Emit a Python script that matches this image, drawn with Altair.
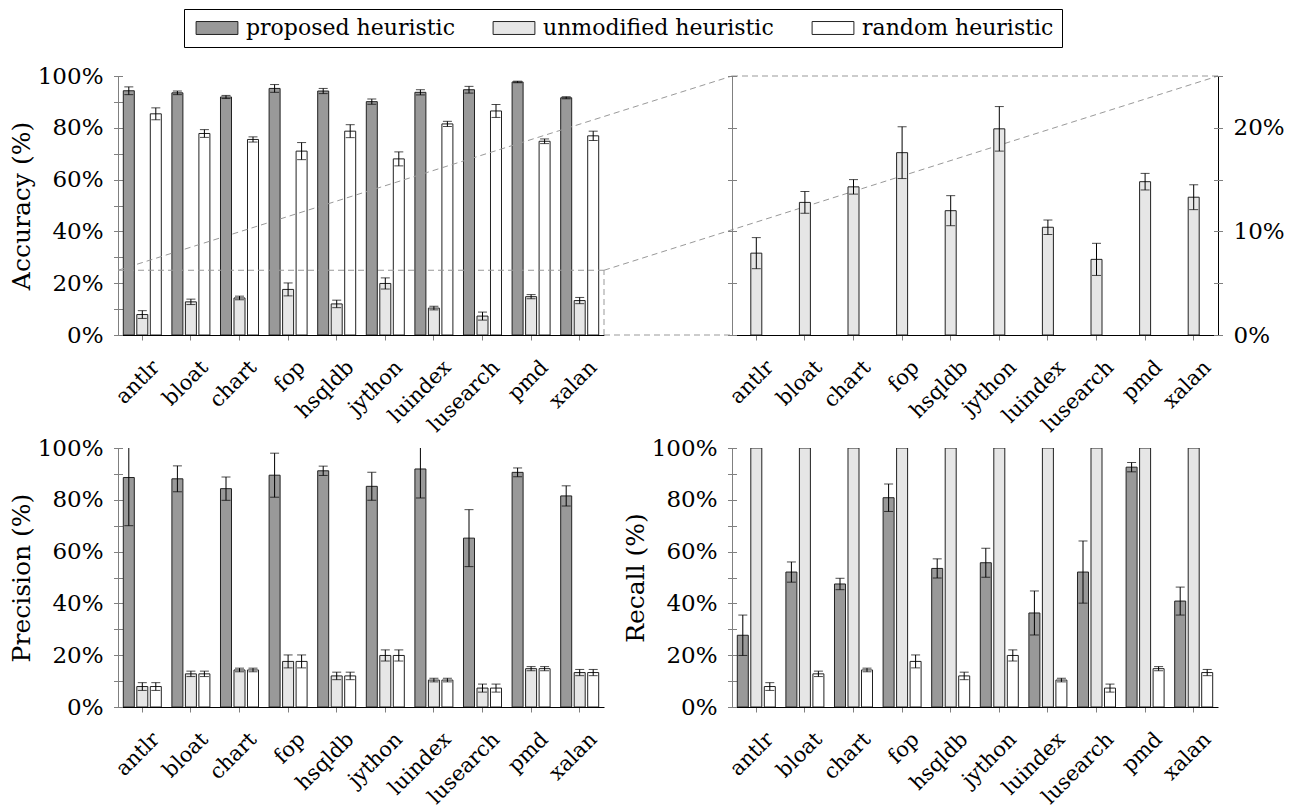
import altair as alt
import pandas as pd

categories = ["antlr", "bloat", "chart", "fop", "hsqldb", "jython", "luindex", "lusearch", "pmd", "xalan"]
series_names = ["proposed heuristic", "unmodified heuristic", "random heuristic"]
fills = ["#999999", "#e6e6e6", "#ffffff"]

acc_proposed = [94.3, 93.5, 91.9, 95.2, 94.2, 90.1, 93.7, 94.7, 97.7, 91.6]
acc_proposed_err = [1.5, 0.7, 0.6, 1.5, 1.0, 1.0, 1.0, 1.3, 0.3, 0.4]
acc_unmod = [7.9, 12.8, 14.3, 17.6, 12.0, 19.9, 10.4, 7.3, 14.8, 13.3]
acc_unmod_err = [1.5, 1.05, 0.7, 2.5, 1.45, 2.15, 0.7, 1.55, 0.8, 1.2]
acc_random = [85.4, 77.8, 75.5, 71.0, 78.7, 68.0, 81.5, 86.5, 74.8, 76.9]
acc_random_err = [2.3, 1.5, 1.0, 3.3, 2.5, 2.7, 1.0, 2.5, 0.9, 1.8]

prec_proposed = [88.6, 88.1, 84.3, 89.5, 91.2, 85.2, 91.9, 65.2, 90.6, 81.5]
prec_proposed_err = [18.6, 5.0, 4.5, 8.5, 1.8, 5.4, 11.2, 11.0, 1.7, 3.9]
prec_unmod = [7.9, 12.8, 14.3, 17.6, 12.0, 19.9, 10.4, 7.3, 14.8, 13.3]
prec_unmod_err = [1.5, 1.05, 0.7, 2.5, 1.45, 2.15, 0.7, 1.55, 0.8, 1.2]
prec_random = [7.9, 12.8, 14.3, 17.6, 12.0, 19.9, 10.4, 7.3, 14.8, 13.3]
prec_random_err = [1.5, 1.05, 0.7, 2.5, 1.45, 2.15, 0.7, 1.55, 0.8, 1.2]

rec_proposed = [27.7, 52.1, 47.5, 80.8, 53.5, 55.7, 36.3, 52.1, 92.6, 40.9]
rec_proposed_err = [7.8, 3.9, 2.2, 5.3, 3.7, 5.6, 8.5, 12.0, 1.8, 5.4]
rec_unmod = [100, 100, 100, 100, 100, 100, 100, 100, 100, 100]
rec_unmod_err = [0, 0, 0, 0, 0, 0, 0, 0, 0, 0]
rec_random = [7.9, 12.8, 14.3, 17.6, 12.0, 19.9, 10.4, 7.3, 14.8, 13.3]
rec_random_err = [1.5, 1.05, 0.7, 2.5, 1.45, 2.15, 0.7, 1.55, 0.8, 1.2]

FONT = "DejaVu Serif"
W = 486
H = 259
HSP = 128
VSP = 113
AXGRAY = "#808080"
DASH = "#999999"


def long_df(vals_list, errs_list, names):
    rows = []
    for name, vals, errs in zip(names, vals_list, errs_list):
        for c, v, e in zip(categories, vals, errs):
            rows.append(dict(bench=c, series=name, value=v, err=e, lo=v - e, hi=v + e))
    return pd.DataFrame(rows)


legend = alt.Legend(
    title=None, orient="none", legendX=66, legendY=-67, direction="horizontal",
    symbolType="M-2.2,-0.68H2.2V0.68H-2.2Z", symbolSize=361, symbolStrokeColor="#222222",
    symbolStrokeWidth=1, labelFont=FONT, labelFontSize=22, labelColor="black",
    labelOffset=18, columnPadding=34, padding=8, strokeColor="black", symbolOffset=14,
    labelLimit=400,
)


def xenc():
    return alt.X(
        "bench:N", sort=categories,
        scale=alt.Scale(domain=categories, paddingInner=0, paddingOuter=0),
        axis=alt.Axis(title=None, labelAngle=-45, labelAlign="right", labelBaseline="middle",
                      labelPadding=24, labelOffset=14, tickSize=5, tickColor=AXGRAY,
                      domainColor="black", labelFontSize=21, labelFont=FONT, labelColor="black"),
    )


xoff = alt.XOffset("series:N", scale=alt.Scale(domain=series_names, paddingInner=0.185, paddingOuter=0.3925))
fill_enc = alt.Fill("series:N", scale=alt.Scale(domain=series_names, range=fills), legend=legend)


def main_axis(title, values, label_expr, orient="left", labels=True, dcolor=AXGRAY):
    kw = dict(orient=orient, values=values, ticks=False, domainColor=dcolor, labels=labels,
              labelPadding=15, labelFont=FONT, labelFontSize=23, labelColor="black")
    if labels:
        kw["labelExpr"] = label_expr
    if title:
        kw.update(title=title, titleFont=FONT, titleFontSize=25, titleFontWeight="normal",
                  titleColor="black", titlePadding=3)
    else:
        kw["title"] = None
    return alt.Axis(**kw)


def tick_axis(values, orient="left"):
    return alt.Axis(orient=orient, values=values, ticks=True, tickSize=9, offset=-4.5,
                    tickColor=AXGRAY, domain=False, labels=False, title=None)


def metric_panel(df, title, extra=None):
    ys = alt.Scale(domain=[0, 100], nice=False, zero=True)
    vals = list(range(0, 101, 10))
    lexpr = "datum.value % 20 == 0 ? datum.value + '%' : ''"
    base = alt.Chart(df)
    errdf = df[df["err"] > 0]
    ebase = alt.Chart(errdf)
    bars = base.mark_bar(stroke="#222222", strokeWidth=1, clip=True).encode(
        x=xenc(), xOffset=xoff,
        y=alt.Y("value:Q", scale=ys, axis=main_axis(title, vals, lexpr)),
        fill=fill_enc,
    )
    rules = ebase.mark_rule(color="black", strokeWidth=1, clip=True).encode(
        x=xenc(), xOffset=xoff,
        y=alt.Y("lo:Q", scale=ys, axis=tick_axis(vals)), y2="hi:Q",
    )
    cap_hi = ebase.mark_tick(color="black", thickness=1, size=9, clip=True).encode(
        x=xenc(), xOffset=xoff, y=alt.Y("hi:Q", scale=ys, axis=None))
    cap_lo = ebase.mark_tick(color="black", thickness=1, size=9, clip=True).encode(
        x=xenc(), xOffset=xoff, y=alt.Y("lo:Q", scale=ys, axis=None))
    layers = [bars, rules, cap_hi, cap_lo]
    if extra:
        layers += extra
    return alt.layer(*layers).resolve_axis(y="independent").properties(width=W, height=H)


# zoom decoration segments (in the accuracy panel's frame): x in pixels, y in accuracy units
one = pd.DataFrame({"k": [0]})
ys_acc = alt.Scale(domain=[0, 100], nice=False, zero=True)
TR_L = W + HSP
TR_R = 2 * W + HSP
segments = [
    (0, W, 25, 25),
    (W, W, 0, 25),
    (W, TR_L, 0, 0),
    (0, TR_L, 25, 100),
    (W, TR_R, 25, 100),
    (TR_L, TR_R, 100, 100),
]
deco = []
for x1, x2, y1, y2 in segments:
    deco.append(
        alt.Chart(one).mark_rule(color=DASH, strokeDash=[6, 4], strokeWidth=1).encode(
            x=alt.value(x1), x2=alt.value(x2),
            y=alt.YDatum(y1, scale=ys_acc, axis=None), y2=alt.datum(y2),
        )
    )

acc_df = long_df([acc_proposed, acc_unmod, acc_random],
                 [acc_proposed_err, acc_unmod_err, acc_random_err], series_names)
prec_df = long_df([prec_proposed, prec_unmod, prec_random],
                  [prec_proposed_err, prec_unmod_err, prec_random_err], series_names)
rec_df = long_df([rec_proposed, rec_unmod, rec_random],
                 [rec_proposed_err, rec_unmod_err, rec_random_err], series_names)

tl = metric_panel(acc_df, "Accuracy (%)", deco)
bl = metric_panel(prec_df, "Precision (%)")
br = metric_panel(rec_df, "Recall (%)")

# zoomed panel: unmodified heuristic only, 0-25 %
zdf = long_df([acc_unmod], [acc_unmod_err], [series_names[1]])
zs = alt.Scale(domain=[0, 25], nice=False, zero=True)
zvals = [0, 5, 10, 15, 20, 25]
zexpr = "datum.value % 10 == 0 ? datum.value + '%' : ''"
zb = alt.Chart(zdf)
z_bars = zb.mark_bar(stroke="#222222", strokeWidth=1, width=11).encode(
    x=xenc(),
    y=alt.Y("value:Q", scale=zs, axis=main_axis(None, zvals, zexpr, orient="left", labels=False)),
    fill=fill_enc,
)
z_rules = zb.mark_rule(color="black", strokeWidth=1).encode(
    x=xenc(),
    y=alt.Y("lo:Q", scale=zs, axis=main_axis(None, zvals, zexpr, orient="right", labels=True, dcolor="black")),
    y2="hi:Q",
)
z_cap_hi = zb.mark_tick(color="black", thickness=1, size=9).encode(
    x=xenc(), y=alt.Y("hi:Q", scale=zs, axis=tick_axis(zvals, "left")))
z_cap_lo = zb.mark_tick(color="black", thickness=1, size=9).encode(
    x=xenc(), y=alt.Y("lo:Q", scale=zs, axis=tick_axis(zvals, "right")))
tr = alt.layer(z_bars, z_rules, z_cap_hi, z_cap_lo).resolve_axis(y="independent").properties(width=W, height=H)

chart = alt.concat(
    tl, tr, bl, br, columns=2, spacing={"row": VSP, "column": HSP}, bounds="flush"
).resolve_scale(fill="shared").properties(
    padding={"left": 0, "top": 0, "right": 5, "bottom": 0}
).configure_view(stroke="transparent").configure_axis(grid=False)

chart.save("out.html", embed_options={"renderer": "svg", "actions": False})
